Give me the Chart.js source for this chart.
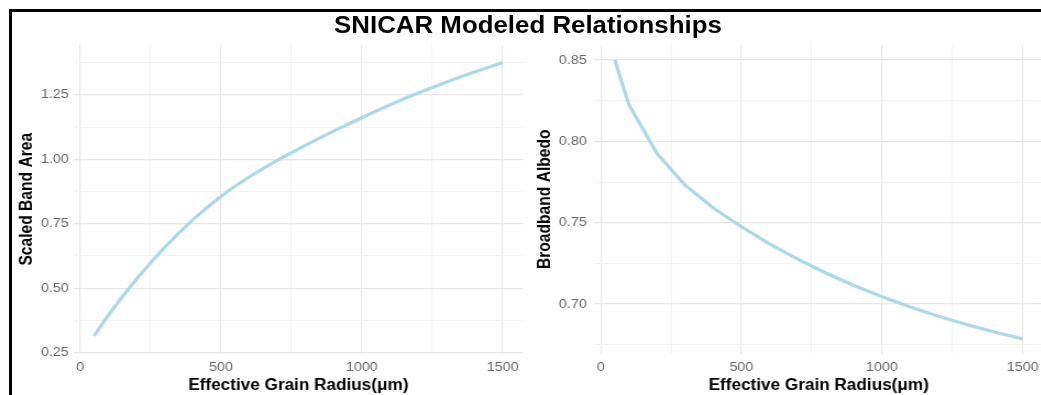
<!DOCTYPE html>
<html>
<head>
<meta charset="utf-8">
<script src="https://cdn.jsdelivr.net/npm/chart.js@4.4.1/dist/chart.umd.min.js"></script>
<style>
    html, body { margin: 0; padding: 0; background: #fff; overflow: hidden; }
    body { width: 1041px; height: 395px; position: relative; }
    /* the reference is stretched a little sideways, so draw narrower and scale */
    #wrap { position: absolute; left: 0; top: 0; width: 960px; height: 395px; transform: scaleX(1.1); transform-origin: 0 0; }
    #title { position: absolute; left: 0; top: 13px; width: 960px; text-align: center; font: bold 23.5px 'Liberation Sans', Arial, sans-serif; line-height: 24px; color: #000; }
    #areaChart { position: absolute; left: 0; top: 0; }
    #albedoChart { position: absolute; left: 482px; top: 0; }
    #frame { position: absolute; left: 9px; top: 9px; width: 1200px; height: 600px; border-left: 3px solid #000; border-top: 3px solid #000; }
</style>
</head>
<body>
<div id="wrap">
    <div id="title">SNICAR Modeled Relationships</div>
    <canvas id="areaChart" width="482" height="395" style="width:482px;height:395px"></canvas>
    <canvas id="albedoChart" width="473" height="395" style="width:473px;height:395px"></canvas>
</div>
<div id="frame"></div>
<script>
// effective grain radius (µm)
const radius = [50, 100, 200, 300, 400, 500, 600, 700, 800, 900, 1000, 1100, 1200, 1300, 1400, 1500];
const scaledBandArea = [0.315, 0.395, 0.535, 0.658, 0.765, 0.856, 0.931, 0.996, 1.054, 1.109, 1.161, 1.211, 1.257, 1.299, 1.338, 1.375];
const broadbandAlbedo = [0.850, 0.8225, 0.7925, 0.773, 0.759, 0.7475, 0.737, 0.7276, 0.7191, 0.7114, 0.7045, 0.6982, 0.6925, 0.6874, 0.6828, 0.6786];

const xMajor = [0, 500, 1000, 1500];
const xMinor = [250, 750, 1250];
const xLabels = ['0', '500', '1000', '1500'];

const areaMajor = [0.25, 0.50, 0.75, 1.00, 1.25];
const areaMinor = [0.375, 0.625, 0.875, 1.125, 1.375];
const areaLabels = ['0.25', '0.50', '0.75', '1.00', '1.25'];

const albedoMajor = [0.70, 0.75, 0.80, 0.85];
const albedoMinor = [0.675, 0.725, 0.775, 0.825];
const albedoLabels = ['0.70', '0.75', '0.80', '0.85'];

const FONT = "'Liberation Sans', Arial, sans-serif";
const LINE_COLOR = '#ADD8E6';
const GRID_MAJOR = '#e8e8e8';
const GRID_MINOR = '#f3f3f3';

function isIn(list, v) {
    return list.some(m => Math.abs(m - v) < 1e-9);
}

function labelFor(major, labels, v) {
    const i = major.findIndex(m => Math.abs(m - v) < 1e-9);
    return i >= 0 ? labels[i] : '';
}

function makeAxis(major, minor, labels, extra) {
    return Object.assign({
        type: 'linear',
        afterBuildTicks: scale => {
            scale.ticks = major.concat(minor).sort((a, b) => a - b).map(v => ({ value: v }));
        },
        ticks: {
            autoSkip: false,
            color: '#666',
            font: { family: FONT, size: 13 },
            callback: v => labelFor(major, labels, v)
        },
        grid: {
            drawTicks: false,
            color: ctx => isIn(major, ctx.tick.value) ? GRID_MAJOR : GRID_MINOR,
            lineWidth: ctx => isIn(major, ctx.tick.value) ? 1.2 : 1
        },
        border: { display: false }
    }, extra);
}

function makeChart(id, values, opts) {
    const points = radius.map((r, i) => ({ x: r, y: values[i] }));
    return new Chart(document.getElementById(id), {
        type: 'line',
        data: {
            datasets: [{
                data: points,
                borderColor: LINE_COLOR,
                borderWidth: 3.2,
                pointRadius: 0,
                fill: false,
                tension: opts.tension,
                cubicInterpolationMode: opts.smooth ? 'monotone' : 'default'
            }]
        },
        options: {
            responsive: false,
            animation: false,
            layout: { padding: { top: 45, right: opts.padRight, bottom: 0, left: 0 } },
            plugins: { legend: { display: false }, tooltip: { enabled: false } },
            scales: {
                x: makeAxis(xMajor, xMinor, xLabels, {
                    min: -22.5,
                    max: 1572.5,
                    afterFit: s => { s.height = 41.5; },
                    title: {
                        display: true,
                        text: 'Effective Grain Radius(μm)',
                        color: '#000',
                        font: { family: FONT, size: 15.6, weight: 'bold' },
                        padding: { top: 0, bottom: 0 }
                    }
                }),
                y: makeAxis(opts.major, opts.minor, opts.labels, {
                    min: opts.min,
                    max: opts.max,
                    afterFit: s => { s.width = opts.axisWidth; },
                    title: {
                        display: true,
                        text: opts.title,
                        color: '#000',
                        font: { family: FONT, size: 15.6, weight: 'bold' },
                        padding: { top: opts.titlePad, bottom: 0 }
                    }
                })
            }
        }
    });
}

// tick padding differs a bit between the two panels
Chart.defaults.scales.linear.ticks.padding = 6;

const areaChart = makeChart('areaChart', scaledBandArea, {
    title: 'Scaled Band Area',
    major: areaMajor, minor: areaMinor, labels: areaLabels,
    min: 0.247, max: 1.443,
    axisWidth: 67, padRight: 6.5, titlePad: 15.2,
    smooth: true, tension: 0.4
});
areaChart.options.scales.y.ticks.padding = 4.5;
areaChart.update();

const albedoChart = makeChart('albedoChart', broadbandAlbedo, {
    title: 'Broadband Albedo',
    major: albedoMajor, minor: albedoMinor, labels: albedoLabels,
    min: 0.6696, max: 0.8592,
    axisWidth: 58.4, padRight: 6.8, titlePad: 4.5,
    smooth: false, tension: 0
});
albedoChart.options.scales.y.ticks.padding = 7;
albedoChart.update();
</script>
</body>
</html>
